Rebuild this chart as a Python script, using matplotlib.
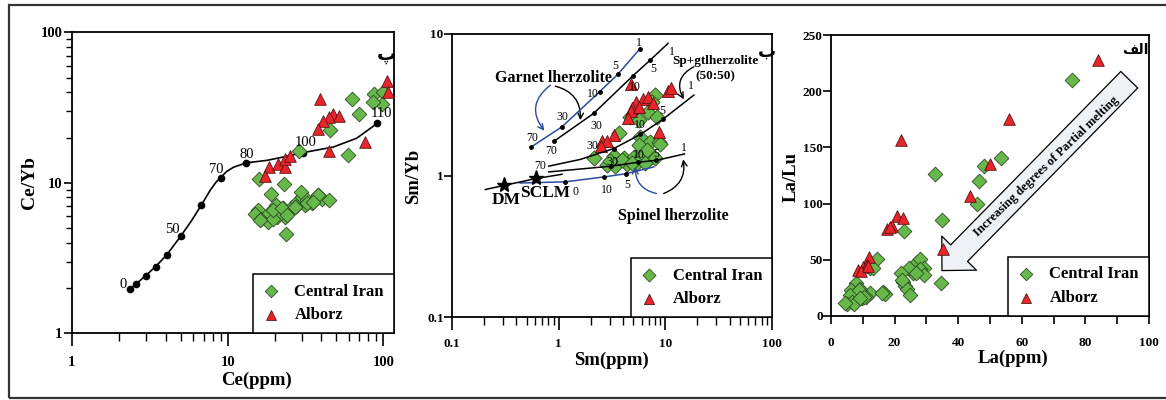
import matplotlib
matplotlib.use('Agg')
import matplotlib.pyplot as plt
from matplotlib.ticker import LogLocator, NullFormatter, FixedLocator, MultipleLocator
from matplotlib.patches import Rectangle

# ---- panel 1 : Ce vs Ce/Yb ----
ce_ci = [15.96, 23.1, 18.97, 15.7, 14.97, 16.3, 18.2, 18.5, 20.4, 22.8, 23.3, 20.8, 19.6, 25.8,
         27.7, 29.9, 29.4, 32.2, 34.6, 38.2, 40.2, 44.9, 31.4, 27.1, 23.7, 16.1, 19.6, 22.2,
         23.9, 27.1, 32.2, 38.2, 35.5, 45.4, 70.0, 63.1, 59.0, 28.6, 87.0, 99.0, 97.5, 85.7]
ceyb_ci = [10.55, 9.82, 8.43, 6.6, 6.2, 5.75, 5.51, 6.33, 7.12, 6.77, 5.95, 5.95, 5.72, 6.94,
           7.49, 8.08, 8.73, 7.69, 7.31, 8.3, 7.77, 7.69, 7.12, 6.94, 4.57, 5.67, 6.61, 6.79,
           6.13, 6.96, 7.32, 8.32, 7.51, 22.4, 28.7, 35.9, 15.3, 16.3, 38.9, 40.3, 33.4, 34.6]
ce_al = [39.2, 47.7, 52.1, 44.9, 40.7, 38.2, 76.2, 44.9, 18.5, 17.4, 21.1, 23.3, 23.3, 25.1, 105.0, 107.5]
ceyb_al = [35.9, 28.7, 27.9, 27.2, 25.9, 22.7, 18.8, 16.3, 12.7, 11.1, 13.3, 12.7, 14.3, 15.1, 47.7, 40.3]

# melting curve
melt_ce = [2.36, 2.58, 2.97, 3.45, 4.06, 5.01, 5.87, 6.77, 7.70, 8.42, 9.02, 9.85, 10.9, 13.2,
           17.8, 23.9, 30.6, 47.7, 67.4, 91.5]
melt_ceyb = [1.96, 2.13, 2.41, 2.78, 3.32, 4.44, 5.62, 7.10, 8.89, 10.1, 10.85, 11.9, 12.7, 13.6,
             14.1, 15.0, 15.9, 17.3, 19.8, 24.9]
melt_dot_ce = [2.36, 2.58, 2.97, 3.45, 4.06, 5.01, 6.77, 9.02, 13.2, 30.6, 91.5]
melt_dot_ceyb = [1.96, 2.13, 2.41, 2.78, 3.32, 4.44, 7.10, 10.85, 13.6, 15.9, 24.9]
melt_lab = ['0', '50', '70', '80', '100', '110']
melt_lab_x = [2.12, 4.43, 8.5, 13.2, 31.5, 96.6]
melt_lab_y = [2.10, 4.87, 12.2, 15.5, 18.5, 28.8]

# ---- panel 2 : Sm vs Sm/Yb ----
sm_ci = [8.06, 6.88, 7.5, 8.35, 4.70, 5.62, 3.65, 5.83, 7.23, 8.66, 5.62, 2.13, 3.28, 4.07,
         5.05, 6.04, 7.23, 8.06, 2.84, 3.40, 4.37, 5.42, 6.49, 3.92, 3.05, 6.73, 4.87, 8.98]
smyb_ci = [3.70, 2.82, 3.32, 2.60, 2.60, 2.46, 2.00, 1.86, 1.73, 1.73, 1.64, 1.34, 1.37, 1.34,
           1.36, 1.37, 1.34, 1.32, 1.18, 1.16, 1.20, 1.22, 1.22, 1.28, 1.27, 1.51, 1.22, 1.68]
sm_al = [4.80, 10.6, 11.3, 5.35, 6.18, 6.88, 7.66, 4.87, 4.77, 4.43, 8.66, 3.32, 2.55, 2.84, 2.49, 5.62]
smyb_al = [4.43, 3.97, 4.13, 3.32, 3.45, 3.56, 3.27, 2.98, 2.87, 2.53, 2.04, 1.93, 1.76, 1.76, 1.62, 3.06]

grt_blue_x = [0.555, 1.074, 2.42, 3.6, 5.75]
grt_blue_y = [1.595, 2.21, 3.91, 5.21, 7.83]
grt_blk_x = [0.898, 2.13, 4.94, 7.23, 10.6]
grt_blk_y = [1.74, 2.75, 5.05, 6.55, 8.59]
spgt_x = [0.806, 1.60, 3.28, 5.83, 9.44, 18.5]
spgt_y = [1.164, 1.30, 1.55, 1.95, 2.49, 3.70]
sp_blk_x = [0.806, 3.12, 5.51, 8.24, 15.1]
sp_blk_y = [1.06, 1.164, 1.24, 1.28, 1.42]
sp_blue_x = [0.434, 1.155, 2.68, 4.3, 7.78]
sp_blue_y = [0.885, 0.902, 0.978, 1.03, 1.15]
dm_line_x = [0.205, 0.305, 0.618, 1.074]
dm_line_y = [0.796, 0.85, 0.953, 1.02]
src_x = [0.305, 0.618]
src_y = [0.85, 0.953]

# curve tick labels (value, x, y)
grt_blue_lab = [('70', 0.562, 1.848), ('30', 1.09, 2.57), ('10', 2.1, 3.75), ('5', 3.40, 5.97), ('1', 5.62, 8.69)]
grt_blk_lab = [('70', 0.847, 1.49), ('30', 2.24, 2.24), ('10', 5.23, 4.20), ('5', 7.66, 5.62), ('1', 11.5, 7.50)]
spgt_lab = [('70', 0.673, 1.164), ('30', 2.05, 1.62), ('10', 5.74, 2.27), ('5', 9.44, 2.87), ('1', 17.5, 4.29)]
sp_blk_lab = [('30', 3.16, 1.25), ('10', 5.62, 1.39), ('5', 8.24, 1.42), ('1', 14.9, 1.57)]
sp_blue_lab = [('10', 2.80, 0.796), ('5', 4.37, 0.855), ('0', 1.45, 0.766)]

# ---- panel 3 : La vs La/Lu ----
la_ci = [75.7, 32.8, 53.4, 48.2, 46.6, 45.9, 34.9, 34.7, 23.0, 14.5, 12.4, 27.0, 28.1, 29.1,
         28.1, 25.9, 24.4, 22.1, 22.6, 23.3, 23.9, 24.9, 29.3, 7.9, 6.3, 9.0, 9.7, 7.6, 6.1,
         5.0, 6.6, 12.4, 16.5, 17.1, 11.1, 7.1, 22.3, 8.7, 10.3, 16.0, 4.5, 9.2, 13.2, 26.8]
lalu_ci = [209.9, 126.3, 140.6, 133.2, 119.8, 99.6, 85.0, 29.1, 75.8, 50.5, 42.5, 47.9, 50.5, 43.1,
           41.6, 38.6, 43.1, 38.0, 30.6, 26.8, 23.8, 18.7, 36.6, 29.1, 23.2, 23.8, 16.3, 14.3, 18.7,
           10.7, 12.8, 20.2, 21.1, 19.6, 17.2, 10.7, 32.1, 23.2, 17.3, 20.2, 11.3, 15.8, 42.5, 38.0]
la_al = [84.1, 56.1, 22.0, 43.6, 50.1, 35.2, 20.9, 22.6, 17.6, 19.2, 11.8, 8.4, 10.1, 11.3, 9.4, 18.6, 11.5]
lalu_al = [227.4, 175.7, 156.4, 106.4, 135.6, 59.5, 88.6, 87.1, 77.3, 80.3, 52.3, 41.0, 44.0, 45.5, 40.4, 79.6, 44.5]

GREEN = '#66b84a'
GREEN_EDGE = '#2c4a26'
RED = '#e8252a'
RED_EDGE = '#5b1111'
BLUE = '#2b4aa0'

plt.rcParams['font.family'] = ['Liberation Serif', 'DejaVu Sans']
plt.rcParams['font.weight'] = 'bold'
plt.rcParams['axes.labelweight'] = 'bold'
plt.rcParams['axes.linewidth'] = 1.3
plt.rcParams['xtick.direction'] = 'out'
plt.rcParams['ytick.direction'] = 'out'

fig = plt.figure(figsize=(11.66, 4), dpi=100)
ax1 = fig.add_axes([0.0617, 0.1667, 0.2762, 0.7523])
ax2 = fig.add_axes([0.3877, 0.2075, 0.2744, 0.7075])
ax3 = fig.add_axes([0.7127, 0.21, 0.2727, 0.7025])

fig.patches.append(Rectangle((0.0077, 0.005), 1.02, 0.9825, transform=fig.transFigure,
                             fill=False, ec='#333333', lw=1.6))


def points(ax, xa, ya, xb, yb, s_d=56, s_t=70):
    ax.scatter(xa, ya, marker='D', s=s_d, c=GREEN, edgecolors=GREEN_EDGE, linewidths=0.6,
               zorder=3, label='Central Iran')
    ax.scatter(xb, yb, marker='^', s=s_t, c=RED, edgecolors=RED_EDGE, linewidths=0.6,
               zorder=3, label='Alborz')
    ax.legend(loc='lower right', borderaxespad=0, fancybox=False, edgecolor='black',
              framealpha=1, handlelength=1.0, handletextpad=0.9, borderpad=0.6,
              labelspacing=0.45, markerscale=0.85,
              prop={'family': 'Liberation Serif', 'weight': 'bold', 'size': 12}).get_frame().set_linewidth(1.1)


# ---- panel 1 ----
ax1.plot(melt_ce, melt_ceyb, color='black', lw=1.2, zorder=2)
ax1.plot(melt_dot_ce, melt_dot_ceyb, 'o', color='black', ms=4.5, zorder=2)
for t, x, y in zip(melt_lab, melt_lab_x, melt_lab_y):
    ax1.text(x, y, t, fontsize=10.5, fontweight='normal', ha='center', va='center', zorder=4)
points(ax1, ce_ci, ceyb_ci, ce_al, ceyb_al)
ax1.set_xscale('log')
ax1.set_yscale('log')
ax1.set_xlim(1, 117)
ax1.set_ylim(1, 100)
ax1.xaxis.set_major_locator(FixedLocator([1, 10, 100]))
ax1.set_xticklabels(['1', '10', '100'])
ax1.yaxis.set_major_locator(FixedLocator([1, 10, 100]))
ax1.set_yticklabels(['1', '10', '100'])
ax1.xaxis.set_minor_locator(LogLocator(subs=range(2, 10)))
ax1.yaxis.set_minor_locator(LogLocator(subs=range(2, 10)))
ax1.xaxis.set_minor_formatter(NullFormatter())
ax1.yaxis.set_minor_formatter(NullFormatter())
ax1.tick_params(axis='x', which='major', length=9, width=1.2, pad=7, labelsize=10.5)
ax1.tick_params(axis='x', which='minor', length=6, width=1.0)
ax1.tick_params(axis='y', which='major', length=6, width=1.2, pad=1, labelsize=10.5)
ax1.tick_params(axis='y', which='minor', length=4, width=1.0)
ax1.set_xlabel('Ce(ppm)', fontsize=13.5, fontweight='bold')
ax1.set_ylabel('Ce/Yb', fontsize=14, fontweight='bold')
ax1.xaxis.set_label_coords(0.574, -0.155)
ax1.xaxis.label.set_va('center')
ax1.yaxis.set_label_coords(-0.133, 0.5)
ax1.yaxis.label.set_va('center')
ax1.text(0.978, 0.925, 'پ', transform=ax1.transAxes, family='DejaVu Sans', fontsize=14,
         fontweight='bold', ha='center', va='center')

# ---- panel 2 ----
points(ax2, sm_ci, smyb_ci, sm_al, smyb_al, s_d=60, s_t=75)
ax2.plot(grt_blue_x, grt_blue_y, color=BLUE, lw=1.1, zorder=4)
ax2.plot(grt_blue_x, grt_blue_y, 'o', color='black', ms=2.5, zorder=5)
ax2.plot(grt_blk_x, grt_blk_y, color='black', lw=1.1, zorder=4)
ax2.plot(grt_blk_x[:4], grt_blk_y[:4], 'o', color='black', ms=2.5, zorder=5)
ax2.plot(spgt_x, spgt_y, color='black', lw=1.1, zorder=4)
ax2.plot(spgt_x[2:5], spgt_y[2:5], 'o', color='black', ms=2.5, zorder=5)
ax2.plot(sp_blk_x, sp_blk_y, color='black', lw=1.1, zorder=4)
ax2.plot(sp_blk_x[1:4], sp_blk_y[1:4], 'o', color='black', ms=2.5, zorder=5)
ax2.plot(sp_blue_x, sp_blue_y, color=BLUE, lw=1.1, zorder=4)
ax2.plot(sp_blue_x[1:4], sp_blue_y[1:4], 'o', color='black', ms=2.5, zorder=5)
ax2.plot(dm_line_x, dm_line_y, color='black', lw=1.1, zorder=4)
ax2.plot(src_x, src_y, '*', color='black', ms=11, zorder=5)
for lab in (grt_blue_lab, grt_blk_lab, spgt_lab, sp_blk_lab, sp_blue_lab):
    for t, x, y in lab:
        ax2.text(x, y, t, fontsize=8.5, fontweight='normal', ha='center', va='center', zorder=6)
ax2.text(0.325, 0.676, 'DM', fontsize=12.5, ha='center', va='center')
ax2.text(0.75, 0.753, 'SCLM', fontsize=12.5, ha='center', va='center')
ax2.text(0.885, 4.91, 'Garnet lherzolite', fontsize=11.5, ha='center', va='center', zorder=7)
ax2.text(29.4, 6.44, 'Sp+gtlherzolite', fontsize=9.5, ha='center', va='center')
ax2.text(29.4, 5.05, '(50:50)', fontsize=9.5, ha='center', va='center')
ax2.text(12.0, 0.515, 'Spinel lherzolite', fontsize=11.5, ha='center', va='center')
arr = dict(lw=1.0, shrinkA=0, shrinkB=0, mutation_scale=10)
ax2.annotate('', xy=(0.734, 2.07), xytext=(0.836, 4.35),
             arrowprops=dict(arrowstyle='->', color=BLUE, connectionstyle='arc3,rad=0.5', **arr))
ax2.annotate('', xy=(1.596, 2.46), xytext=(0.93, 4.28),
             arrowprops=dict(arrowstyle='->', color='black', connectionstyle='arc3,rad=-0.4', **arr))
ax2.annotate('', xy=(14.9, 3.45), xytext=(18.5, 5.87),
             arrowprops=dict(arrowstyle='->', color='black', connectionstyle='arc3,rad=0.5', **arr))
ax2.annotate('', xy=(5.23, 1.15), xytext=(8.24, 0.746),
             arrowprops=dict(arrowstyle='->', color=BLUE, connectionstyle='arc3,rad=-0.4', **arr))
ax2.annotate('', xy=(14.7, 1.30), xytext=(9.64, 0.746),
             arrowprops=dict(arrowstyle='->', color='black', connectionstyle='arc3,rad=0.4', **arr))
ax2.set_xscale('log')
ax2.set_yscale('log')
ax2.set_xlim(0.1, 100)
ax2.set_ylim(0.1, 10)
ax2.xaxis.set_major_locator(FixedLocator([0.1, 1, 10, 100]))
ax2.set_xticklabels(['0.1', '1', '10', '100'])
ax2.yaxis.set_major_locator(FixedLocator([0.1, 1, 10]))
ax2.set_yticklabels(['0.1', '1', '10'])
ax2.xaxis.set_minor_locator(LogLocator(subs=range(2, 10)))
ax2.xaxis.set_minor_formatter(NullFormatter())
ax2.yaxis.set_minor_locator(FixedLocator([]))
ax2.tick_params(axis='x', which='major', length=9, width=1.2, pad=6, labelsize=9.5)
ax2.tick_params(axis='x', which='minor', length=6, width=1.0)
ax2.tick_params(axis='y', which='major', length=6, width=1.2, pad=0, labelsize=9.5)
ax2.set_xlabel('Sm(ppm)', fontsize=13.5, fontweight='bold')
ax2.set_ylabel('Sm/Yb', fontsize=13.5, fontweight='bold')
ax2.xaxis.set_label_coords(0.499, -0.154)
ax2.xaxis.label.set_va('center')
ax2.yaxis.set_label_coords(-0.119, 0.496)
ax2.yaxis.label.set_va('center')
ax2.text(0.984, 0.936, 'ب', transform=ax2.transAxes, family='DejaVu Sans', fontsize=13,
         fontweight='bold', ha='center', va='center')

# ---- panel 3 ----
points(ax3, la_ci, lalu_ci, la_al, lalu_al)
ax3.annotate('', xy=(34.9, 40.4), xytext=(93.8, 210.2),
             arrowprops=dict(arrowstyle='simple,head_length=1.76,head_width=3.5,tail_width=1.7',
                             fc='#eef1f6', ec='black', lw=0.9, shrinkA=0, shrinkB=0,
                             mutation_scale=10), zorder=2)
ax3.text(67.6, 132.6, 'Increasing degrees of Partial melting', rotation=44, fontsize=9,
         ha='center', va='center', rotation_mode='anchor', zorder=3)
ax3.set_xlim(0, 100)
ax3.set_ylim(0, 250)
ax3.xaxis.set_major_locator(MultipleLocator(20))
ax3.xaxis.set_minor_locator(MultipleLocator(10))
ax3.yaxis.set_major_locator(MultipleLocator(50))
ax3.tick_params(axis='x', which='both', length=6, width=1.2, pad=9, labelsize=9.5)
ax3.tick_params(axis='y', which='major', length=6, width=1.2, pad=0, labelsize=9.5)
ax3.set_xlabel('La(ppm)', fontsize=13.5, fontweight='bold')
ax3.set_ylabel('La/Lu', fontsize=13.5, fontweight='bold')
ax3.xaxis.set_label_coords(0.573, -0.15)
ax3.xaxis.label.set_va('center')
ax3.yaxis.set_label_coords(-0.124, 0.496)
ax3.yaxis.label.set_va('center')
ax3.text(0.956, 0.947, '\ufed2\ufedf\ufe8d', transform=ax3.transAxes, family='DejaVu Sans',
         fontsize=10, fontweight='bold', ha='center', va='center')

fig.savefig('out.png', dpi=100)
